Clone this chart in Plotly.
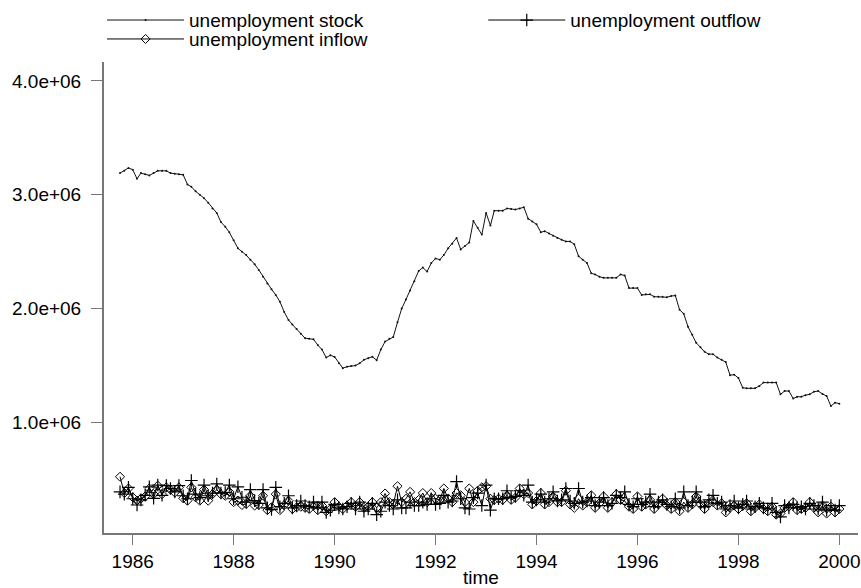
import pandas as pd
import plotly.graph_objects as go

# Monthly observations, 1985m10 .. 2000m1 (172 months)
start_month = "1985-10-01"
n_months = 172

# unemployment stock (millions)
stock_m = [
    3.19, 3.21, 3.235, 3.22, 3.14, 3.19, 3.18, 3.17, 3.19, 3.21, 3.21, 3.21,
    3.19, 3.185, 3.18, 3.175, 3.09, 3.07, 3.03, 3.00, 2.97, 2.93, 2.88, 2.84,
    2.76, 2.72, 2.67, 2.60, 2.53, 2.50, 2.47, 2.43, 2.39, 2.34, 2.28, 2.22,
    2.17, 2.12, 2.06, 1.97, 1.90, 1.86, 1.82, 1.78, 1.74, 1.735, 1.73, 1.68,
    1.64, 1.57, 1.59, 1.575, 1.52, 1.477, 1.49, 1.495, 1.50, 1.52, 1.55, 1.565,
    1.577, 1.547, 1.64, 1.71, 1.735, 1.75, 1.88, 2.00, 2.08, 2.16, 2.24, 2.33,
    2.36, 2.325, 2.40, 2.44, 2.43, 2.47, 2.53, 2.57, 2.62, 2.52, 2.55, 2.58,
    2.77, 2.71, 2.65, 2.84, 2.73, 2.86, 2.86, 2.86, 2.88, 2.875, 2.87, 2.88,
    2.89, 2.79, 2.765, 2.74, 2.67, 2.68, 2.66, 2.64, 2.62, 2.605, 2.59, 2.59,
    2.565, 2.46, 2.43, 2.40, 2.31, 2.30, 2.28, 2.27, 2.27, 2.27, 2.27, 2.30,
    2.29, 2.18, 2.18, 2.18, 2.12, 2.125, 2.125, 2.105, 2.105, 2.105, 2.10, 2.11,
    2.115, 1.99, 1.955, 1.84, 1.77, 1.70, 1.66, 1.62, 1.60, 1.60, 1.57, 1.55,
    1.53, 1.415, 1.42, 1.39, 1.305, 1.30, 1.30, 1.30, 1.32, 1.35, 1.35, 1.35,
    1.35, 1.247, 1.276, 1.276, 1.21, 1.225, 1.226, 1.24, 1.247, 1.27, 1.276, 1.25,
    1.232, 1.144, 1.174, 1.165,
]

# unemployment inflow (millions)
inflow_m = [
    0.523, 0.38, 0.42, 0.343, 0.313, 0.33, 0.35, 0.42, 0.37, 0.445, 0.37, 0.43,
    0.41, 0.385, 0.43, 0.334, 0.313, 0.43, 0.343, 0.313, 0.41, 0.313, 0.37, 0.41,
    0.37, 0.356, 0.39, 0.30, 0.313, 0.275, 0.284, 0.356, 0.27, 0.275, 0.356, 0.23,
    0.255, 0.37, 0.23, 0.275, 0.313, 0.24, 0.255, 0.26, 0.25, 0.24, 0.27, 0.23,
    0.27, 0.22, 0.24, 0.30, 0.26, 0.24, 0.27, 0.30, 0.26, 0.30, 0.25, 0.26,
    0.30, 0.25, 0.30, 0.376, 0.30, 0.28, 0.44, 0.30, 0.33, 0.39, 0.30, 0.32,
    0.38, 0.30, 0.38, 0.33, 0.32, 0.42, 0.33, 0.30, 0.38, 0.36, 0.30, 0.42,
    0.30, 0.40, 0.43, 0.44, 0.33, 0.32, 0.33, 0.32, 0.36, 0.32, 0.34, 0.42,
    0.37, 0.38, 0.28, 0.31, 0.38, 0.28, 0.30, 0.35, 0.30, 0.30, 0.40, 0.28,
    0.25, 0.33, 0.27, 0.30, 0.36, 0.25, 0.29, 0.35, 0.25, 0.30, 0.37, 0.32,
    0.31, 0.26, 0.24, 0.35, 0.26, 0.28, 0.32, 0.24, 0.28, 0.33, 0.27, 0.24,
    0.30, 0.22, 0.30, 0.25, 0.28, 0.35, 0.28, 0.24, 0.29, 0.30, 0.27, 0.29,
    0.21, 0.25, 0.27, 0.24, 0.27, 0.29, 0.22, 0.25, 0.28, 0.24, 0.22, 0.26,
    0.19, 0.20, 0.25, 0.26, 0.30, 0.23, 0.24, 0.25, 0.30, 0.25, 0.21, 0.27,
    0.20, 0.26, 0.21, 0.24,
]

# unemployment outflow (millions)
outflow_m = [
    0.39, 0.37, 0.43, 0.33, 0.275, 0.32, 0.36, 0.435, 0.334, 0.45, 0.36, 0.445,
    0.42, 0.39, 0.445, 0.356, 0.33, 0.49, 0.37, 0.34, 0.45, 0.356, 0.38, 0.46,
    0.38, 0.385, 0.45, 0.33, 0.435, 0.343, 0.30, 0.41, 0.313, 0.29, 0.41, 0.25,
    0.235, 0.43, 0.26, 0.29, 0.356, 0.25, 0.27, 0.31, 0.27, 0.26, 0.30, 0.25,
    0.30, 0.21, 0.23, 0.28, 0.25, 0.24, 0.26, 0.29, 0.24, 0.30, 0.22, 0.24,
    0.29, 0.19, 0.22, 0.30, 0.27, 0.24, 0.32, 0.25, 0.25, 0.30, 0.27, 0.27,
    0.30, 0.28, 0.33, 0.28, 0.29, 0.36, 0.30, 0.31, 0.48, 0.33, 0.25, 0.24,
    0.34, 0.38, 0.27, 0.45, 0.23, 0.33, 0.33, 0.33, 0.40, 0.34, 0.35, 0.40,
    0.36, 0.45, 0.30, 0.32, 0.37, 0.30, 0.33, 0.39, 0.31, 0.32, 0.42, 0.31,
    0.29, 0.42, 0.30, 0.31, 0.34, 0.27, 0.30, 0.34, 0.27, 0.29, 0.36, 0.34,
    0.39, 0.28, 0.26, 0.33, 0.28, 0.30, 0.37, 0.26, 0.30, 0.32, 0.28, 0.26,
    0.33, 0.25, 0.39, 0.27, 0.30, 0.39, 0.30, 0.26, 0.32, 0.36, 0.29, 0.30,
    0.24, 0.27, 0.31, 0.25, 0.28, 0.31, 0.24, 0.26, 0.29, 0.25, 0.24, 0.29,
    0.21, 0.17, 0.27, 0.25, 0.28, 0.25, 0.26, 0.24, 0.29, 0.27, 0.24, 0.30,
    0.23, 0.27, 0.23, 0.27,
]

y_tick_vals = [1e6, 2e6, 3e6, 4e6]
y_tick_text = ["1.0e+06", "2.0e+06", "3.0e+06", "4.0e+06"]
x_tick_years = list(range(1986, 2001, 2))

months = pd.date_range(start_month, periods=n_months, freq="MS")
stock = [v * 1e6 for v in stock_m]
inflow = [v * 1e6 for v in inflow_m]
outflow = [v * 1e6 for v in outflow_m]

FONT = "Liberation Sans, Arial, sans-serif"
BLACK = "#000000"
AXIS_GRAY = "#777777"

fig = go.Figure()
fig.add_trace(go.Scatter(
    x=months, y=stock, name="unemployment stock", mode="lines+markers",
    line=dict(color="#111111", width=1),
    marker=dict(size=2, color="#111111"),
    legend="legend",
))
fig.add_trace(go.Scatter(
    x=months, y=outflow, name="unemployment outflow", mode="lines+markers",
    line=dict(color=BLACK, width=1),
    marker=dict(symbol="cross-thin-open", size=9, color=BLACK,
                line=dict(color=BLACK, width=1.2)),
    legend="legend2",
))
fig.add_trace(go.Scatter(
    x=months, y=inflow, name="unemployment inflow", mode="lines+markers",
    line=dict(color=BLACK, width=1),
    marker=dict(symbol="diamond-open", size=7, color=BLACK,
                line=dict(color=BLACK, width=1)),
    legend="legend3",
))

legend_common = dict(
    orientation="v", xanchor="left", yanchor="middle",
    font=dict(family=FONT, size=19, color=BLACK),
    bgcolor="rgba(0,0,0,0)", borderwidth=0, itemwidth=77,
)

fig.update_layout(
    width=861, height=588,
    margin=dict(l=104, r=1, t=61, b=54, pad=0),
    paper_bgcolor="white", plot_bgcolor="white",
    font=dict(family=FONT, size=19, color=BLACK),
    showlegend=True,
    legend=dict(x=-0.0026, y=1.0888, **legend_common),
    legend2=dict(x=0.503, y=1.0888, **legend_common),
    legend3=dict(x=-0.0026, y=1.0486, **legend_common),
    xaxis=dict(
        type="date",
        range=["1985-06-07", "2000-05-15"],
        tickvals=[pd.Timestamp(f"{y}-01-01") for y in x_tick_years],
        ticktext=[str(y) for y in x_tick_years],
        ticklabeloverflow="allow",
        ticks="outside", ticklen=10, tickwidth=1, tickcolor=AXIS_GRAY,
        showline=True, linecolor=AXIS_GRAY, linewidth=2,
        showgrid=False, zeroline=False,
        tickfont=dict(family=FONT, size=19, color=BLACK),
        title=dict(text="time", font=dict(family=FONT, size=19, color=BLACK), standoff=2),
    ),
    yaxis=dict(
        range=[0.029e6, 4.166e6],
        tickvals=y_tick_vals, ticktext=y_tick_text,
        ticks="outside", ticklen=11, tickwidth=1, tickcolor=AXIS_GRAY,
        ticklabelstandoff=6,
        showline=True, linecolor=AXIS_GRAY, linewidth=2,
        showgrid=False, zeroline=False,
        tickfont=dict(family=FONT, size=19, color=BLACK),
    ),
)

fig.write_html("out.html", config={"displayModeBar": False},
               post_script="document.body.style.margin='0';")
